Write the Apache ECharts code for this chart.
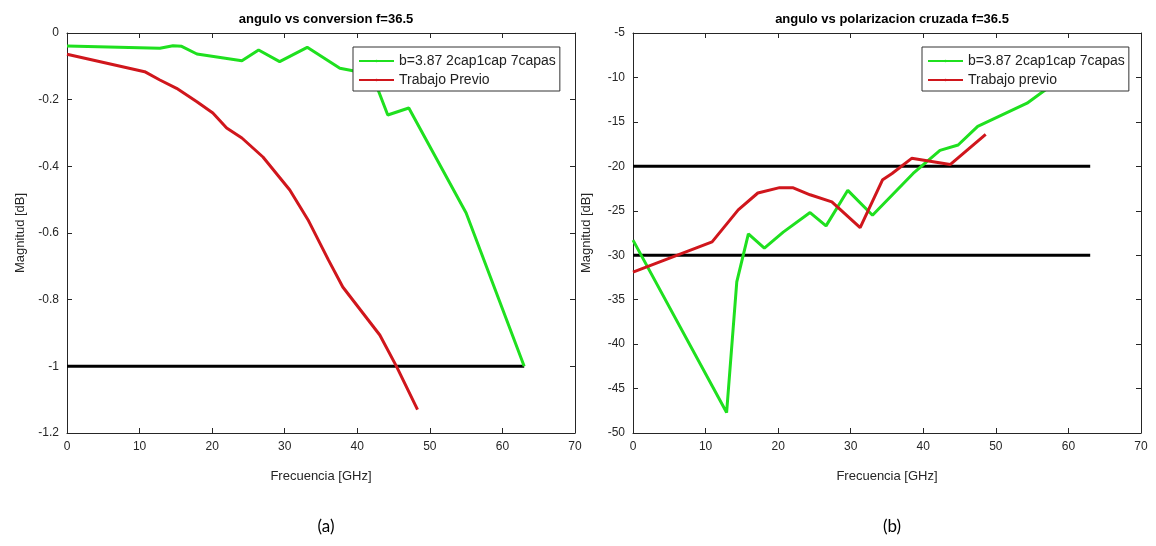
<!DOCTYPE html>
<html>
<head>
<meta charset="utf-8">
<script src="https://cdn.jsdelivr.net/npm/echarts@6/dist/echarts.min.js"></script>
<style>
  html, body { margin: 0; padding: 0; background: #fff; }
  #chart { width: 1156px; height: 546px; }
</style>
</head>
<body>
<div id="chart"></div>
<script>
// (a) angulo vs conversion
var convFreqB = [0, 12.8, 14.6, 15.8, 17.9, 24.1, 26.4, 29.3, 33.1, 37.6, 39.4, 42.5, 44.2, 47.1, 55.0, 63.0];
var convMagB  = [-0.039, -0.046, -0.038, -0.040, -0.063, -0.083, -0.051, -0.086, -0.043, -0.106, -0.113, -0.15, -0.246, -0.225, -0.54, -1.0];
var convFreqPrev = [0, 10.7, 12.8, 15.1, 17.9, 20.1, 22.0, 24.1, 27.0, 30.7, 33.2, 36.0, 38.0, 43.1, 45.4, 48.3];
var convMagPrev  = [-0.064, -0.116, -0.141, -0.166, -0.206, -0.24, -0.285, -0.315, -0.372, -0.471, -0.56, -0.68, -0.762, -0.906, -1.0, -1.13];

// (b) angulo vs polarizacion cruzada
var polFreqB = [0, 12.9, 14.3, 15.9, 18.1, 20.7, 24.4, 26.6, 29.6, 33.0, 38.6, 42.3, 44.8, 47.5, 54.3, 57.5];
var polMagB  = [-28.3, -47.7, -33, -27.6, -29.2, -27.4, -25.2, -26.7, -22.7, -25.5, -20.8, -18.2, -17.6, -15.5, -12.9, -11.0];
var polFreqPrev = [0, 10.9, 14.5, 17.2, 20.2, 22.0, 24.4, 27.4, 31.3, 34.4, 35.7, 38.4, 43.7, 48.6];
var polMagPrev  = [-31.9, -28.5, -24.9, -23.0, -22.4, -22.4, -23.2, -24.0, -26.9, -21.5, -20.8, -19.1, -19.8, -16.4];

// lineas de referencia
var limitFreq = [0, 63];
var convLimit = [-1, -1];
var polLimitHigh = [-20, -20];
var polLimitLow = [-30, -30];

var nameB = 'b=3.87 2cap1cap 7capas';
var GREEN = '#1fe01f', RED = '#d0161c', BLACK = '#000';
var AXIS = '#262626';
var FONT = '"Liberation Sans", Arial, sans-serif';

function pairs(xs, ys) {
	return xs.map(function (x, i) { return [x, ys[i]]; });
}

function lineSeries(name, xs, ys, color, idx) {
	return {
		name: name,
		type: 'line',
		xAxisIndex: idx * 2,
		yAxisIndex: idx * 2,
		data: pairs(xs, ys),
		symbol: 'none',
		lineStyle: { color: color, width: 3 },
		itemStyle: { color: color },
		silent: true,
		animation: false
	};
}

// eje principal (abajo/izquierda) y eje espejo (arriba/derecha) como en MATLAB
function xAxes(gridIndex, name) {
	var line = { show: true, onZero: false, lineStyle: { color: AXIS, width: 1 } };
	return [
		{
			type: 'value', gridIndex: gridIndex, min: 0, max: 70, interval: 10,
			position: 'bottom', axisLine: line, splitLine: { show: false },
			axisTick: { show: true, inside: true, length: 5, lineStyle: { color: AXIS } },
			name: name, nameLocation: 'middle', nameGap: 37,
			nameTextStyle: { color: AXIS, fontSize: 13, fontFamily: FONT },
			axisLabel: { color: AXIS, fontSize: 12, fontFamily: FONT, margin: 8 }
		},
		{
			type: 'value', gridIndex: gridIndex, min: 0, max: 70, interval: 10,
			position: 'top', axisLine: line, splitLine: { show: false },
			axisTick: { show: true, inside: true, length: 5, lineStyle: { color: AXIS } },
			axisLabel: { show: false }
		}
	];
}

function yAxes(gridIndex, min, max, interval) {
	var line = { show: true, onZero: false, lineStyle: { color: AXIS, width: 1 } };
	return [
		{
			type: 'value', gridIndex: gridIndex, min: min, max: max, interval: interval,
			position: 'left', axisLine: line, splitLine: { show: false },
			axisTick: { show: true, inside: true, length: 5, lineStyle: { color: AXIS } },
			name: 'Magnitud [dB]', nameLocation: 'middle', nameGap: 40,
			nameTextStyle: { color: AXIS, fontSize: 13, fontFamily: FONT },
			axisLabel: {
				color: AXIS, fontSize: 12, fontFamily: FONT, margin: 8,
				formatter: function (v) { return String(Math.round(v * 10) / 10); }
			}
		},
		{
			type: 'value', gridIndex: gridIndex, min: min, max: max, interval: interval,
			position: 'right', axisLine: line, splitLine: { show: false },
			axisTick: { show: true, inside: true, length: 5, lineStyle: { color: AXIS } },
			axisLabel: { show: false }
		}
	];
}

function legendBox(left, names) {
	return {
		left: left, top: 47,
		orient: 'vertical',
		data: names,
		backgroundColor: '#fff',
		borderColor: '#333', borderWidth: 1,
		padding: [6, 4, 3, 5],
		itemGap: 3,
		itemWidth: 35, itemHeight: 3,
		selectedMode: false,
		textStyle: { color: '#222', fontSize: 14, lineHeight: 16, fontFamily: FONT }
	};
}

var chart = echarts.init(document.getElementById('chart'));

var option = {
	backgroundColor: '#fff',
	animation: false,
	title: [
		{ text: 'angulo vs conversion f=36.5', left: 321, top: 8, textAlign: 'center',
		  textStyle: { fontSize: 13, fontWeight: 'bold', color: '#000', fontFamily: FONT } },
		{ text: 'angulo vs polarizacion cruzada f=36.5', left: 887, top: 8, textAlign: 'center',
		  textStyle: { fontSize: 13, fontWeight: 'bold', color: '#000', fontFamily: FONT } },
		{ text: '(a)', left: 321, top: 513, textAlign: 'center',
		  textStyle: { fontSize: 17, fontWeight: 'normal', color: '#000', fontFamily: 'Lato, sans-serif' } },
		{ text: '(b)', left: 887, top: 513, textAlign: 'center',
		  textStyle: { fontSize: 17, fontWeight: 'normal', color: '#000', fontFamily: 'Lato, sans-serif' } }
	],
	grid: [
		{ left: 67, top: 33, width: 508, height: 400 },
		{ left: 633, top: 33, width: 508, height: 400 }
	],
	xAxis: xAxes(0, 'Frecuencia [GHz]').concat(xAxes(1, 'Frecuencia [GHz]')),
	yAxis: yAxes(0, -1.2, 0, 0.2).concat(yAxes(1, -50, -5, 5)),
	legend: [
		legendBox(353, [nameB, 'Trabajo Previo']),
		legendBox(922, [nameB, 'Trabajo previo'])
	],
	series: [
		lineSeries('limite a', limitFreq, convLimit, BLACK, 0),
		lineSeries(nameB, convFreqB, convMagB, GREEN, 0),
		lineSeries('Trabajo Previo', convFreqPrev, convMagPrev, RED, 0),
		lineSeries('limite b1', limitFreq, polLimitHigh, BLACK, 1),
		lineSeries('limite b2', limitFreq, polLimitLow, BLACK, 1),
		lineSeries(nameB, polFreqB, polMagB, GREEN, 1),
		lineSeries('Trabajo previo', polFreqPrev, polMagPrev, RED, 1)
	]
};

chart.setOption(option);
</script>
</body>
</html>
